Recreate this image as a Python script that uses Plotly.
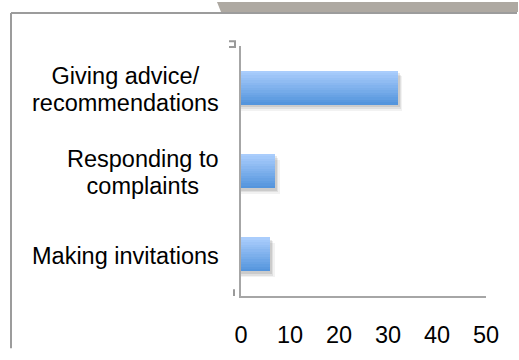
import plotly.graph_objects as go

# Survey categories (top to bottom) and their counts
categories = ["Giving advice/<br>recommendations", "Responding to<br>complaints", "Making invitations"]
values = [32, 7, 6]
x_ticks = [0, 10, 20, 30, 40, 50]

FONT = "Liberation Sans, Arial, sans-serif"
FONT_SIZE = 23.5
LINE_FONT = 20.5      # sets the line step (1.3em) of multi-line labels
BAR_W = 0.41          # bar thickness in category units
N_BANDS = 14          # gradient bands per bar
TOP_RGB = (170, 205, 252)
BOT_RGB = (84, 149, 221)

# pixel -> paper conversion (plot area is 245 x 258 px, top-left at 241,46)
PX_L, PX_T, PW, PH = 241, 46, 245, 258
def px_x(px):
    return (px - PX_L) / PW
def px_y(py):
    return (PX_T + PH - py) / PH

pos = list(range(len(categories)))
fig = go.Figure()

# soft drop shadow under each bar (a few translucent layers)
for dx, dy, a in [(0.9, 0.07, 0.05), (0.6, 0.05, 0.07), (0.35, 0.03, 0.09)]:
    fig.add_trace(go.Bar(
        y=pos, x=[v + dx for v in values], orientation="h",
        width=BAR_W, offset=-BAR_W / 2 + dy,
        marker=dict(color=f"rgba(0,0,0,{a})", line=dict(width=0)),
        hoverinfo="skip", showlegend=False,
    ))

# vertical gradient: each band runs from its top edge to the bar bottom,
# later (darker) bands cover the lower part of the earlier ones
for i in range(N_BANDS):
    t = i / (N_BANDS - 1)
    r, g, b = (round(TOP_RGB[c] + (BOT_RGB[c] - TOP_RGB[c]) * t) for c in range(3))
    top = -BAR_W / 2 + BAR_W * i / N_BANDS
    fig.add_trace(go.Bar(
        y=pos, x=values, orientation="h",
        width=BAR_W / 2 - top, offset=top,
        marker=dict(color=f"rgb({r},{g},{b})", line=dict(width=0)),
        hoverinfo="skip", showlegend=False,
    ))

# category labels: block right-aligned by the axis, lines centred inside it
for p, label in zip(pos, categories):
    text = "<br>".join(
        f'<span style="font-size:{FONT_SIZE}px">{line}</span>' for line in label.split("<br>")
    )
    fig.add_annotation(
        x=0, xref="paper", y=p, yref="y", text=text, showarrow=False,
        xanchor="right", yanchor="middle", align="center",
        xshift=-20, yshift=-1.5,
        font=dict(family=FONT, size=LINE_FONT, color="#000000"),
    )

shapes = [
    # grey tab across the top
    dict(type="path", xref="paper", yref="paper",
         path=(f"M {px_x(217)} {px_y(0.5)} L {px_x(518)} {px_y(0.5)} "
               f"L {px_x(518)} {px_y(11)} L {px_x(221)} {px_y(11)} Z"),
         fillcolor="#aea9a2", line=dict(width=0), layer="below"),
    # outer frame: left and top edges
    dict(type="line", xref="paper", yref="paper",
         x0=px_x(11), x1=px_x(11), y0=px_y(358), y1=px_y(12),
         line=dict(color="#9c9c9c", width=2), layer="below"),
    dict(type="line", xref="paper", yref="paper",
         x0=px_x(11), x1=px_x(517), y0=px_y(12), y1=px_y(12),
         line=dict(color="#9c9c9c", width=2), layer="below"),
    # small marks near the axis ends
    dict(type="path", xref="paper", yref="paper",
         path=(f"M {px_x(229)} {px_y(41)} L {px_x(235)} {px_y(41)} "
               f"L {px_x(235)} {px_y(47)} L {px_x(229)} {px_y(47)}"),
         line=dict(color="#9a9a9a", width=2), fillcolor="rgba(0,0,0,0)"),
    dict(type="line", xref="paper", yref="paper",
         x0=px_x(234), x1=px_x(234), y0=px_y(304), y1=px_y(297),
         line=dict(color="#9a9a9a", width=2)),
]

fig.update_layout(
    width=519, height=360,
    margin=dict(l=241, r=33, t=46, b=56),
    paper_bgcolor="white", plot_bgcolor="white",
    barmode="overlay", bargap=0,
    shapes=shapes,
    font=dict(family=FONT, size=FONT_SIZE, color="#000000"),
    xaxis=dict(
        range=[0, 50], tickvals=x_ticks, ticktext=[str(t) for t in x_ticks],
        showgrid=False, zeroline=False,
        showline=True, linecolor="#a6a6a6", linewidth=2,
        ticks="", ticklabelstandoff=17,
        tickfont=dict(family=FONT, size=FONT_SIZE, color="#000000"),
    ),
    yaxis=dict(
        range=[2.5, -0.5], showticklabels=False, showgrid=False, zeroline=False,
        showline=True, linecolor="#a6a6a6", linewidth=2, ticks="",
    ),
)

fig.write_html("out.html")
